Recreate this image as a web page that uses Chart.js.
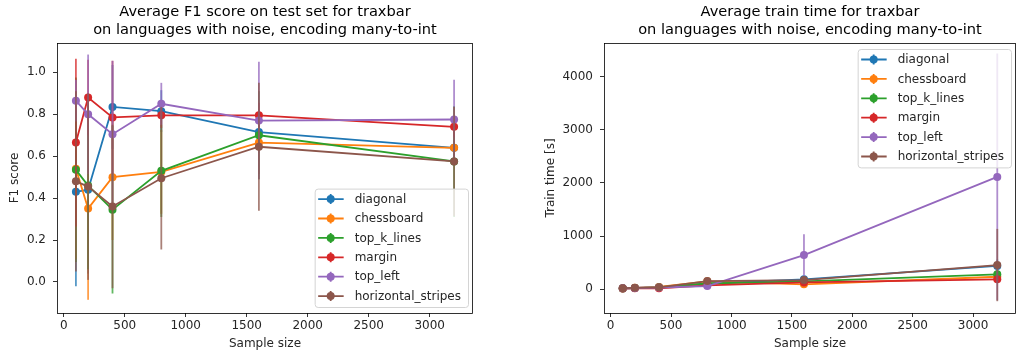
<!DOCTYPE html>
<html>
<head>
<meta charset="utf-8">
<script src="https://cdn.jsdelivr.net/npm/chart.js@4.4.1/dist/chart.umd.min.js"></script>
<style>
  body { margin: 0; background: #fff; }
  #wrap { position: relative; width: 1020px; height: 356px; overflow: hidden; }
  canvas { position: absolute; top: 0; }
  #c1 { left: 0; }
  #c2 { left: 510px; }
</style>
</head>
<body>
<div id="wrap">
  <canvas id="c1" width="510" height="356"></canvas>
  <canvas id="c2" width="510" height="356"></canvas>
</div>
<script>
// data
const sampleSizes = [100, 200, 400, 800, 1600, 3200];
const seriesNames = ["diagonal", "chessboard", "top_k_lines", "margin", "top_left", "horizontal_stripes"];
const seriesColors = ["#1f77b4", "#ff7f0e", "#2ca02c", "#d62728", "#9467bd", "#8c564b"];

const f1Diagonal = [0.43, 0.44, 0.835, 0.815, 0.715, 0.64];
const f1Chessboard = [0.54, 0.35, 0.50, 0.525, 0.665, 0.64];
const f1TopK = [0.535, 0.46, 0.345, 0.53, 0.70, 0.575];
const f1Margin = [0.665, 0.88, 0.785, 0.795, 0.795, 0.74];
const f1TopLeft = [0.865, 0.80, 0.705, 0.85, 0.77, 0.775];
const f1Stripes = [0.48, 0.455, 0.36, 0.495, 0.645, 0.575];

const f1ErrDiagonal = [0.45, 0.40, 0.20, 0.10, 0.10, 0.08];
const f1ErrChessboard = [0.43, 0.435, 0.30, 0.20, 0.15, 0.08];
const f1ErrTopK = [0.44, 0.40, 0.40, 0.22, 0.21, 0.265];
const f1ErrMargin = [0.40, 0.18, 0.27, 0.06, 0.06, 0.05];
const f1ErrTopLeft = [0.10, 0.285, 0.35, 0.10, 0.28, 0.19];
const f1ErrStripes = [0.43, 0.445, 0.39, 0.34, 0.305, 0.26];

const timeDiagonal = [20, 25, 40, 110, 188, 440];
const timeChessboard = [20, 28, 45, 150, 94, 237];
const timeTopK = [18, 24, 35, 110, 150, 282];
const timeMargin = [15, 20, 20, 75, 130, 188];
const timeTopLeft = [20, 25, 35, 62, 645, 2115];
const timeStripes = [22, 28, 38, 156, 175, 457];

const timeErrDiagonal = [5, 8, 15, 30, 40, 120];
const timeErrChessboard = [5, 8, 15, 40, 40, 80];
const timeErrTopK = [5, 8, 12, 30, 40, 90];
const timeErrMargin = [5, 6, 10, 25, 40, 60];
const timeErrTopLeft = [5, 8, 12, 20, 390, 2320];
const timeErrStripes = [6, 8, 12, 40, 50, 680];

const xTicks = [0, 500, 1000, 1500, 2000, 2500, 3000];
const f1Ticks = [0.0, 0.2, 0.4, 0.6, 0.8, 1.0];
const timeTicks = [0, 1000, 2000, 3000, 4000];

const f1Means = [f1Diagonal, f1Chessboard, f1TopK, f1Margin, f1TopLeft, f1Stripes];
const f1Errs = [f1ErrDiagonal, f1ErrChessboard, f1ErrTopK, f1ErrMargin, f1ErrTopLeft, f1ErrStripes];
const timeMeans = [timeDiagonal, timeChessboard, timeTopK, timeMargin, timeTopLeft, timeStripes];
const timeErrs = [timeErrDiagonal, timeErrChessboard, timeErrTopK, timeErrMargin, timeErrTopLeft, timeErrStripes];

Chart.defaults.font.family = "'DejaVu Sans', sans-serif";
Chart.defaults.color = "#262626";

function hexA(hex, a) {
    let n = parseInt(hex.slice(1), 16);
    return `rgba(${n >> 16},${(n >> 8) & 255},${n & 255},${a})`;
}

// vertical error bars, drawn just under each series line
const errorBars = {
    id: "errorBars",
    beforeDatasetDraw(chart, args) {
        let ds = chart.data.datasets[args.index];
        if (!ds.errors) return;
        let ctx = chart.ctx, xs = chart.scales.x, ys = chart.scales.y;
        ctx.save();
        ctx.strokeStyle = hexA(ds.borderColor, 0.75);
        ctx.lineWidth = 1.8;
        ds.data.forEach((p, i) => {
            let px = xs.getPixelForValue(p.x);
            ctx.beginPath();
            ctx.moveTo(px, ys.getPixelForValue(p.y - ds.errors[i]));
            ctx.lineTo(px, ys.getPixelForValue(p.y + ds.errors[i]));
            ctx.stroke();
        });
        ctx.restore();
    }
};

// frame around the axes, like matplotlib spines
const spines = {
    id: "spines",
    afterDatasetsDraw(chart) {
        let a = chart.chartArea, ctx = chart.ctx;
        ctx.save();
        ctx.strokeStyle = "#000";
        ctx.lineWidth = 0.8;
        ctx.strokeRect(Math.round(a.left) + 0.5, Math.round(a.top) + 0.5,
            Math.round(a.right - a.left) - 1, Math.round(a.bottom - a.top));
        ctx.restore();
    }
};

// two line title centred over the axes, not the whole canvas
const axesTitle = {
    id: "axesTitle",
    afterDraw(chart, args, opts) {
        let ctx = chart.ctx, a = chart.chartArea;
        let cx = (a.left + a.right) / 2;
        ctx.save();
        ctx.font = "14.6px 'DejaVu Sans'";
        ctx.fillStyle = "#000";
        ctx.textAlign = "center";
        ctx.textBaseline = "middle";
        opts.lines.forEach((t, i) => ctx.fillText(t, cx, 12 + i * 18));
        ctx.restore();
    }
};

// matplotlib style legend box inside the axes
const mplLegend = {
    id: "mplLegend",
    afterDraw(chart, args, opts) {
        let ctx = chart.ctx, a = chart.chartArea;
        ctx.save();
        ctx.font = "12px 'DejaVu Sans'";
        let maxW = Math.max(...seriesNames.map(n => ctx.measureText(n).width));
        let w = 40 + maxW + 7, rowH = 19.4, h = rowH * 6 + 2;
        let x = a.right - 5 - w;
        let y = opts.corner === "upper" ? a.top + 6 : a.bottom - 6 - h;
        ctx.beginPath();
        ctx.roundRect(x + 0.5, y + 0.5, w, h, 3);
        ctx.fillStyle = "rgba(255,255,255,0.8)";
        ctx.fill();
        ctx.strokeStyle = "#d4d4d4";
        ctx.lineWidth = 1;
        ctx.stroke();
        seriesNames.forEach((name, i) => {
            let cy = y + 10.5 + i * rowH;
            let col = seriesColors[i];
            ctx.strokeStyle = col;
            ctx.lineWidth = 1.8;
            ctx.beginPath();
            ctx.moveTo(x + 3.5, cy);
            ctx.lineTo(x + 29, cy);
            ctx.moveTo(x + 16, cy - 5);
            ctx.lineTo(x + 16, cy + 5);
            ctx.stroke();
            ctx.fillStyle = col;
            ctx.beginPath();
            ctx.arc(x + 16, cy, 4, 0, Math.PI * 2);
            ctx.fill();
            ctx.fillStyle = "#262626";
            ctx.textBaseline = "middle";
            ctx.textAlign = "left";
            ctx.fillText(name, x + 40, cy + 0.5);
        });
        ctx.restore();
    }
};

function buildDatasets(means, errs) {
    return seriesNames.map((name, i) => ({
        label: name,
        data: sampleSizes.map((s, j) => ({ x: s, y: means[i][j] })),
        errors: errs[i],
        borderColor: seriesColors[i],
        backgroundColor: seriesColors[i],
        pointBackgroundColor: seriesColors[i],
        pointBorderWidth: 0,
        pointRadius: 4,
        borderWidth: 1.8,
        tension: 0,
        order: seriesNames.length - i
    }));
}

function makeChart(id, cfg) {
    return new Chart(document.getElementById(id), {
        type: "line",
        data: { datasets: buildDatasets(cfg.means, cfg.errs) },
        options: {
            responsive: false,
            animation: false,
            devicePixelRatio: 1,
            layout: { padding: { left: cfg.padLeft, right: cfg.padRight, top: 43, bottom: 0 } },
            plugins: {
                legend: { display: false },
                tooltip: { enabled: false },
                title: { display: false },
                axesTitle: { lines: cfg.title },
                mplLegend: { corner: cfg.legendCorner }
            },
            scales: {
                x: {
                    type: "linear",
                    min: -55,
                    max: 3355,
                    afterBuildTicks: s => { s.ticks = xTicks.map(v => ({ value: v })); },
                    afterFit: s => { s.height = 43; },
                    grid: { drawOnChartArea: false, drawTicks: true, tickLength: 4, color: "#000", tickWidth: 0.8 },
                    border: { display: false },
                    ticks: { font: { size: 12 }, padding: 2, maxRotation: 0, callback: v => String(v) },
                    title: { display: true, text: "Sample size", font: { size: 12, lineHeight: 1.2 }, padding: { top: 0, bottom: 5 } }
                },
                y: {
                    type: "linear",
                    min: cfg.yMin,
                    max: cfg.yMax,
                    afterBuildTicks: s => { s.ticks = cfg.yTicks.map(v => ({ value: v })); },
                    afterFit: s => { s.width = cfg.axisWidth; },
                    grid: { drawOnChartArea: false, drawTicks: true, tickLength: 4, color: "#000", tickWidth: 0.8 },
                    border: { display: false },
                    ticks: { font: { size: 12 }, padding: 7, callback: cfg.tickFmt },
                    title: { display: true, text: cfg.yTitle, font: { size: 12, lineHeight: 1.2 }, padding: { top: 8, bottom: 0 } }
                }
            }
        },
        plugins: [errorBars, spines, axesTitle, mplLegend]
    });
}

makeChart("c1", {
    means: f1Means,
    errs: f1Errs,
    title: ["Average F1 score on test set for traxbar", "on languages with noise, encoding many-to-int"],
    yTitle: "F1 score",
    yMin: -0.148,
    yMax: 1.14,
    yTicks: f1Ticks,
    tickFmt: v => v.toFixed(1),
    padLeft: 0,
    padRight: 37,
    axisWidth: 57,
    legendCorner: "lower"
});

makeChart("c2", {
    means: timeMeans,
    errs: timeErrs,
    title: ["Average train time for traxbar", "on languages with noise, encoding many-to-int"],
    yTitle: "Train time [s]",
    yMin: -445,
    yMax: 4633,
    yTicks: timeTicks,
    tickFmt: v => String(v),
    padLeft: 26,
    padRight: 0,
    axisWidth: 68,
    legendCorner: "upper"
});
</script>
</body>
</html>
